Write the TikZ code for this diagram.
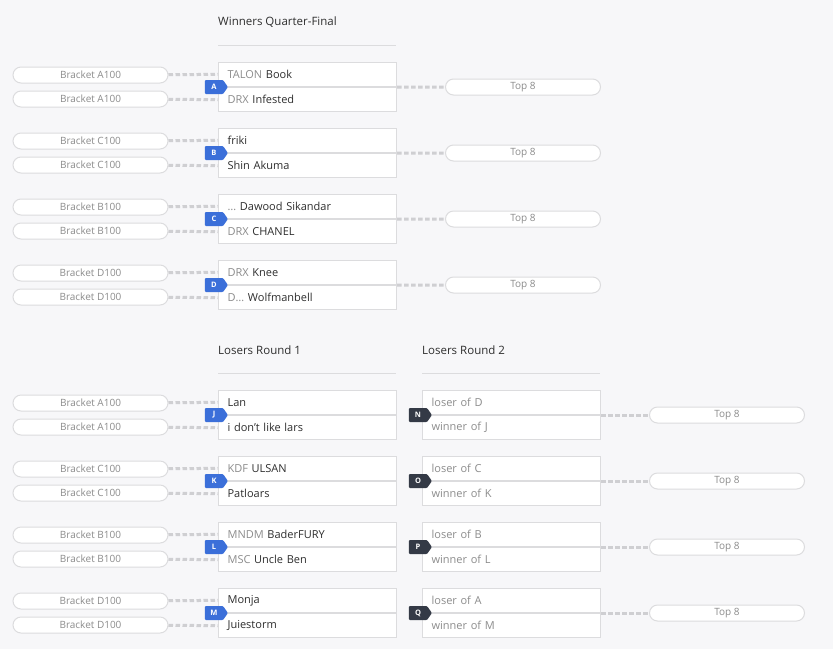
\documentclass[tikz,border=0pt]{standalone}
\usepackage{fontspec}
\setmainfont{Open Sans}
\usetikzlibrary{positioning,shapes.symbols}
\definecolor{bgc}{HTML}{F7F7F9}
\definecolor{linec}{HTML}{DCDCDE}
\definecolor{greyt}{HTML}{8C8C8C}
\definecolor{darkt}{HTML}{2E2E2E}
\definecolor{dashc}{HTML}{CFCFD2}
\definecolor{wbadge}{HTML}{3B6FD9}
\definecolor{lbadge}{HTML}{343A46}
\newcommand{\gr}[1]{\textcolor{greyt}{#1}}
\tikzset{
  pill/.style={draw=linec, line width=1pt, fill=white, rounded corners=8pt, minimum width=155pt,
    minimum height=16pt, inner sep=0pt, text=greyt, font=\fontsize{10}{11}\selectfont},
  slot/.style={draw=linec, line width=1.2pt, fill=white, minimum width=178pt, minimum height=24pt,
    inner xsep=9pt, inner ysep=0pt, text width=160pt, align=left, text=darkt, font=\fontsize{11}{12}\selectfont},
  conn/.style={draw=dashc, line width=3pt, dash pattern=on 4.5pt off 2.5pt},
  badge/.style={signal, signal to=east, signal pointer angle=110, fill=#1, text=white,
    font=\bfseries\fontsize{7.5}{8}\selectfont, minimum height=14pt, minimum width=23pt, inner sep=1pt, rounded corners=1pt},
  head/.style={anchor=west, inner sep=0pt, text=darkt, font=\fontsize{11.5}{13}\selectfont}
}
\begin{document}
\begin{tikzpicture}[x=1pt,y=-1pt]
  \useasboundingbox[fill=bgc] (0,0) rectangle (833,649);
  %headers
  \node[head] (hwq) at (218,22) {Winners Quarter-Final};
  \node[head] (hl1) at (218,350) {Losers Round 1};
  \node[head] (hl2) at (422,350) {Losers Round 2};
  \draw[linec] (218,45) -- (396,45) (218,373) -- (396,373) (422,373) -- (600,373);
  %winners quarter-final
  \foreach \l/\y/\p/\a/\b in {A/87/A100/{\gr{TALON} Book}/{\gr{DRX} Infested},
      B/153/C100/friki/Shin Akuma,
      C/219/B100/{\gr{…} Dawood Sikandar}/{\gr{DRX} CHANEL},
      D/285/D100/{\gr{DRX} Knee}/{\gr{D…} Wolfmanbell}}{
    \node[slot, anchor=south west] (m\l1) at (218,\y) {\a};
    \node[slot, anchor=north west] (m\l2) at (218,\y) {\b};
    \node[pill] (p\l1) at (90.5,\y-12) {Bracket \p};
    \node[pill] (p\l2) at (90.5,\y+12) {Bracket \p};
    \node[pill] (t\l) at (523,\y) {Top 8};
    \draw[conn] (p\l1) -- (m\l1.west) (p\l2) -- (m\l2.west) (m\l1.south east) -- (t\l);
    \node[badge=wbadge] (b\l) at (214,\y) {\l};
  }
  %losers round 1
  \foreach \l/\y/\p/\a/\b in {J/415/A100/Lan/i don't like lars,
      K/481/C100/{\gr{KDF} ULSAN}/Patloars,
      L/547/B100/{\gr{MNDM} BaderFURY}/{\gr{MSC} Uncle Ben},
      M/613/D100/Monja/Juiestorm}{
    \node[slot, anchor=south west] (m\l1) at (218,\y) {\a};
    \node[slot, anchor=north west] (m\l2) at (218,\y) {\b};
    \node[pill] (p\l1) at (90.5,\y-12) {Bracket \p};
    \node[pill] (p\l2) at (90.5,\y+12) {Bracket \p};
    \draw[conn] (p\l1) -- (m\l1.west) (p\l2) -- (m\l2.west);
    \node[badge=wbadge] (b\l) at (214,\y) {\l};
  }
  %losers round 2
  \foreach \l/\y/\a/\b in {N/415/D/J, O/481/C/K, P/547/B/L, Q/613/A/M}{
    \node[slot, anchor=south west, text=greyt] (m\l1) at (422,\y) {loser of \a};
    \node[slot, anchor=north west, text=greyt] (m\l2) at (422,\y) {winner of \b};
    \node[pill] (t\l) at (727,\y) {Top 8};
    \draw[conn] (m\l1.south east) -- (t\l);
    \node[badge=lbadge] (b\l) at (418,\y) {\l};
  }
\end{tikzpicture}
\end{document}
